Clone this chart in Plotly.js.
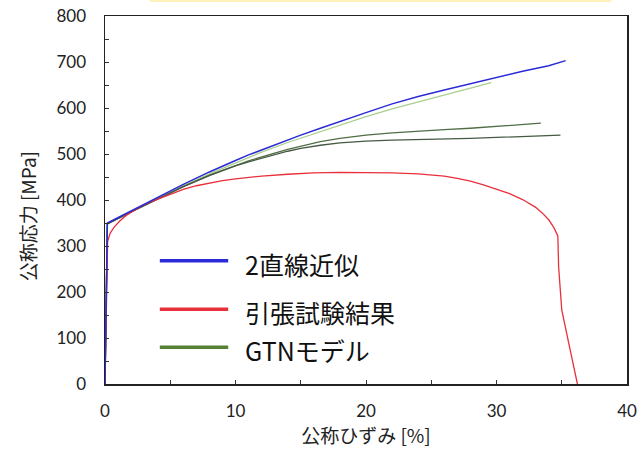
<!DOCTYPE html>
<html>
<head>
<meta charset="utf-8">
<script src="https://cdn.plot.ly/plotly-3.0.1.min.js"></script>
<style>html,body{margin:0;padding:0;background:#fff;}#chart{width:639px;height:451px;}</style>
</head>
<body>
<div id="chart"></div>
<script>
// Series names
const seriesNames = ["2直線近似", "引張試験結果", "GTNモデル"];

// 2直線近似 (blue)
const blueX = [0, 0.18, 2, 4, 6, 8, 9, 10, 11, 12, 13, 14, 15, 16.5, 18, 20, 22, 24, 26, 28, 30, 32, 34, 35.3];
const blueY = [0, 350, 376, 405, 434, 461, 474, 486, 498, 509, 519, 530, 541, 556, 571, 590, 609, 625, 639, 653, 667, 680, 692, 703];

// 引張試験結果 (red)
const redX = [0, 0.1, 0.2, 0.4, 0.7, 1.15, 1.6, 2.2, 2.8, 3.5, 4.2, 5, 6, 7, 8, 9, 10, 11, 12, 14, 16, 18, 20, 22, 24, 25, 26, 27, 28, 29, 30, 31, 32, 33, 33.5, 34, 34.4, 34.7, 34.76, 35, 35.6, 36.2];
const redY = [0, 160, 310, 328, 341, 355, 366, 377, 387, 396, 404, 413, 423, 431, 437, 442, 446, 449, 452, 456, 459, 460, 460, 459, 457, 455, 452, 447, 441, 433, 424, 414, 401, 384, 372, 357, 340, 322, 255, 161, 80, 0];

// GTNモデル (pale green)
const gtnAX = [0, 0.18, 2, 4, 6, 8, 10, 12, 14, 16.5, 18, 20, 22, 24, 26, 28, 29.6];
const gtnAY = [0, 348, 374, 403, 431, 457, 481, 504, 525, 549, 563, 581, 598, 613, 628, 642, 655];

// GTNモデル (dark green, upper)
const gtnBX = [0, 0.18, 2, 4, 6, 8, 9, 10, 11, 12, 13, 14, 15, 16.5, 18, 20, 22, 24, 26, 28, 30, 32, 33.4];
const gtnBY = [0, 348, 374, 402, 429, 454, 465, 475, 485, 494, 502, 510, 517, 527, 534, 541, 546, 550, 553, 556, 560, 564, 567];

// GTNモデル (dark green, lower)
const gtnCX = [0, 0.18, 2, 4, 6, 8, 9, 10, 11, 12, 13, 14, 15, 16.5, 18, 20, 22, 24, 26, 28, 30, 32, 34.9];
const gtnCY = [0, 348, 374, 402, 429, 453, 464, 474, 483, 491, 499, 506, 512, 519, 524, 528, 530, 531, 532, 534, 536, 538, 541];

const xTickVals = [0, 10, 20, 30, 40];
const yTickVals = [0, 100, 200, 300, 400, 500, 600, 700, 800];

const cBlue = "#2a2ad6", cRed = "#e8303c", cGreen = "#548235";

const traces = [
  {x: gtnAX, y: gtnAY, mode: "lines", line: {color: "#a9cf8f", width: 1.3}, name: seriesNames[2], showlegend: false},
  {x: gtnBX, y: gtnBY, mode: "lines", line: {color: "#4f6e45", width: 1.3}, name: seriesNames[2], showlegend: false},
  {x: gtnCX, y: gtnCY, mode: "lines", line: {color: "#465a44", width: 1.3}, name: seriesNames[2], showlegend: false},
  {x: redX, y: redY, mode: "lines", line: {color: cRed, width: 1.3}, name: seriesNames[1], showlegend: false},
  {x: blueX, y: blueY, mode: "lines", line: {color: cBlue, width: 1.5}, name: seriesNames[0], showlegend: false}
];

const tickFont = {family: "Lato, 'Noto Sans', sans-serif", size: 17, color: "#222"};
const cjk = "'Noto Sans CJK JP', sans-serif";

// manual legend
const legColors = [cBlue, cRed, cGreen];
const legY = [0.335, 0.203, 0.1];
const shapes = [
  {type: "rect", xref: "paper", yref: "paper", x0: 0.086, x1: 0.97, y0: 1.038, y1: 1.045, fillcolor: "#fff2b8", line: {width: 0}, layer: "below"}
];
const annotations = [];
for (let i = 0; i < 3; i++) {
  shapes.push({type: "line", xref: "paper", yref: "paper", x0: 0.105, x1: 0.236, y0: legY[i], y1: legY[i], line: {color: legColors[i], width: 3.5}});
  annotations.push({xref: "paper", yref: "paper", x: 0.265, y: legY[i] - 0.008, xanchor: "left", yanchor: "middle", showarrow: false, text: seriesNames[i], font: {family: cjk, size: 25, color: "#111"}});
}
// y-axis title
annotations.push({xref: "paper", yref: "paper", x: -0.148, y: 0.455, xanchor: "center", yanchor: "middle", textangle: -90, showarrow: false, text: "公称応力 [MPa]", font: {family: cjk, size: 19, color: "#222"}});

const layout = {
  width: 639, height: 451,
  margin: {l: 105, r: 12, t: 16, b: 67},
  paper_bgcolor: "#fff", plot_bgcolor: "#fff",
  showlegend: false,
  xaxis: {
    range: [0, 40], tickvals: xTickVals, ticktext: xTickVals.map(String),
    ticks: "inside", ticklen: 4, tickcolor: "#333", tickwidth: 1,
    minor: {dtick: 5, ticks: "inside", ticklen: 4, tickcolor: "#333", tickwidth: 1},
    showline: true, linecolor: "#222", linewidth: 1.5, mirror: true,
    showgrid: false, zeroline: false, tickfont: tickFont, ticklabelstandoff: 11,
    title: {text: "公称ひずみ [%]", font: {family: cjk, size: 19, color: "#222"}, standoff: 9}
  },
  yaxis: {
    range: [0, 800], tickvals: yTickVals, ticktext: yTickVals.map(String),
    ticks: "inside", ticklen: 4, tickcolor: "#333", tickwidth: 1,
    minor: {dtick: 50, ticks: "inside", ticklen: 4, tickcolor: "#333", tickwidth: 1},
    showline: true, linecolor: "#222", linewidth: 1.5, mirror: true,
    showgrid: false, zeroline: false, tickfont: tickFont, ticklabelstandoff: 14
  },
  shapes: shapes,
  annotations: annotations
};

Plotly.newPlot("chart", traces, layout, {displayModeBar: false, staticPlot: true});
</script>
</body>
</html>
